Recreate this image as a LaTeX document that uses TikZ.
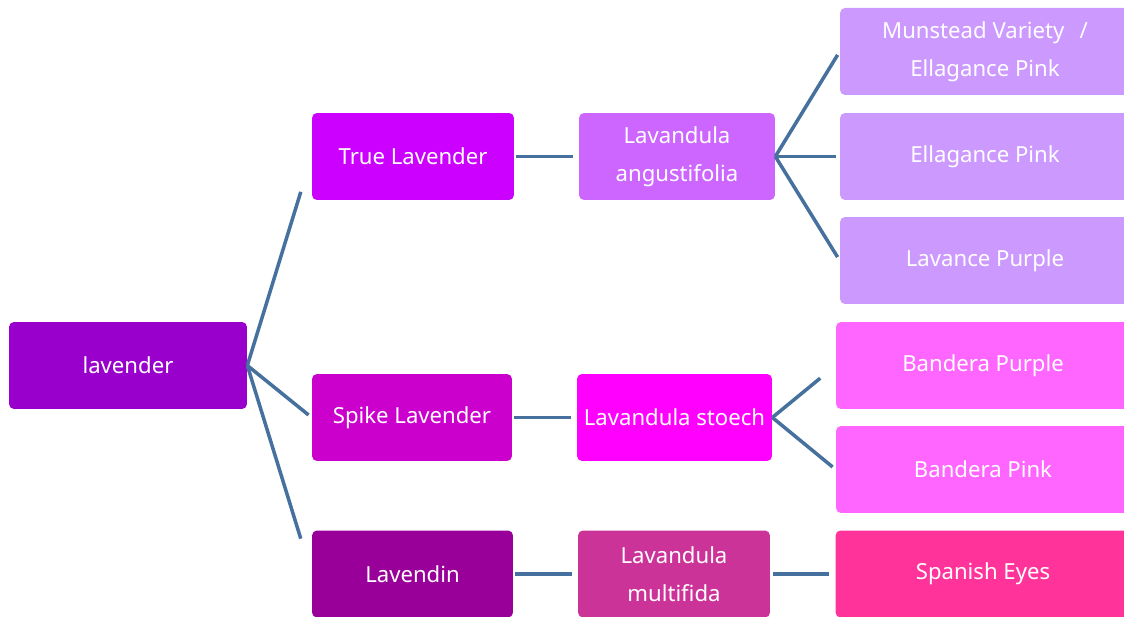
\documentclass[tikz,border=0pt]{standalone}
\usepackage{fontspec}
\setmainfont{Noto Sans}
\usetikzlibrary{positioning}
\definecolor{lvroot}{HTML}{9900CC}
\definecolor{lvtrue}{HTML}{CC00FF}
\definecolor{lvangu}{HTML}{CC66FF}
\definecolor{lvangu4}{HTML}{CC99FF}
\definecolor{lvspike}{HTML}{CC00CC}
\definecolor{lvstoe}{HTML}{FF00FF}
\definecolor{lvstoe4}{HTML}{FF66FF}
\definecolor{lvdin}{HTML}{990099}
\definecolor{lvmult}{HTML}{CC3399}
\definecolor{lvmult4}{HTML}{FF3399}
\definecolor{lvline}{RGB}{70,112,158}
\tikzset{
  box/.style={rounded corners=0.1cm, text=white, align=center, inner sep=0pt,
    minimum height=1.74cm, font=\fontsize{12.6}{21.6}\selectfont},
  link/.style={draw=lvline, line width=2pt}
}

\begin{document}
\begin{tikzpicture}[x=0.02cm,y=-0.02cm]
\useasboundingbox (0,0) rectangle (1124,617);
\clip (0,0) rectangle (1124,617);
% Level one
\node[box, fill=lvroot, minimum width=4.76cm] (lav) at (128,365.5) {lavender};
% Level two
\node[box, fill=lvtrue, minimum width=4.04cm] (truelav) at (413,156.5) {True Lavender};
\node[box, fill=lvspike, minimum width=4.00cm] (spikelav) at (412,417.5) {Spike Lavender};
\node[box, fill=lvdin, minimum width=4.02cm] (lavdin) at (412.5,574) {Lavendin};
% Level three
\node[box, fill=lvangu, minimum width=3.92cm] (angu) at (677,156.5) {Lavandula\\angustifolia};
\node[box, fill=lvstoe, minimum width=3.90cm] (stoe) at (674.5,417.5) {Lavandula stoech};
\node[box, fill=lvmult, minimum width=3.84cm] (mult) at (674,574) {Lavandula\\multifida};
% Level four
\node[box, fill=lvangu4, minimum width=5.80cm] (munst) at (985,51.5) {Munstead Variety~~\,/\\Ellagance Pink};
\node[box, fill=lvangu4, minimum width=5.80cm] (ellag) at (985,156.5) {Ellagance Pink};
\node[box, fill=lvangu4, minimum width=5.80cm] (lavpur) at (985,260.5) {Lavance Purple};
\node[box, fill=lvstoe4, minimum width=5.88cm] (banpur) at (983,365.5) {Bandera Purple};
\node[box, fill=lvstoe4, minimum width=5.88cm] (banpin) at (983,469.5) {Bandera Pink};
\node[box, fill=lvmult4, minimum width=5.90cm] (spanish) at (983,574) {Spanish Eyes};
% Links
\draw[link, shorten >=0.74cm] (lav.east) -- (truelav.west);
\draw[link, shorten >=0.08cm] (lav.east) -- (spikelav.west);
\draw[link, shorten >=0.74cm] (lav.east) -- (lavdin.west);
\draw[link, shorten <=0.04cm, shorten >=0.12cm] (truelav.east) -- (angu.west);
\draw[link, shorten <=0.04cm, shorten >=0.12cm] (spikelav.east) -- (stoe.west);
\draw[link, shorten <=0.04cm, shorten >=0.12cm] (lavdin.east) -- (mult.west);
\draw[link, shorten >=0.08cm] (angu.east) -- (munst.west);
\draw[link, shorten >=0.08cm] (angu.east) -- (ellag.west);
\draw[link, shorten >=0.08cm] (angu.east) -- (lavpur.west);
\draw[link, shorten >=0.40cm] (stoe.east) -- (banpur.west);
\draw[link, shorten >=0.08cm] (stoe.east) -- (banpin.west);
\draw[link, shorten <=0.06cm, shorten >=0.12cm] (mult.east) -- (spanish.west);
\end{tikzpicture}
\end{document}
